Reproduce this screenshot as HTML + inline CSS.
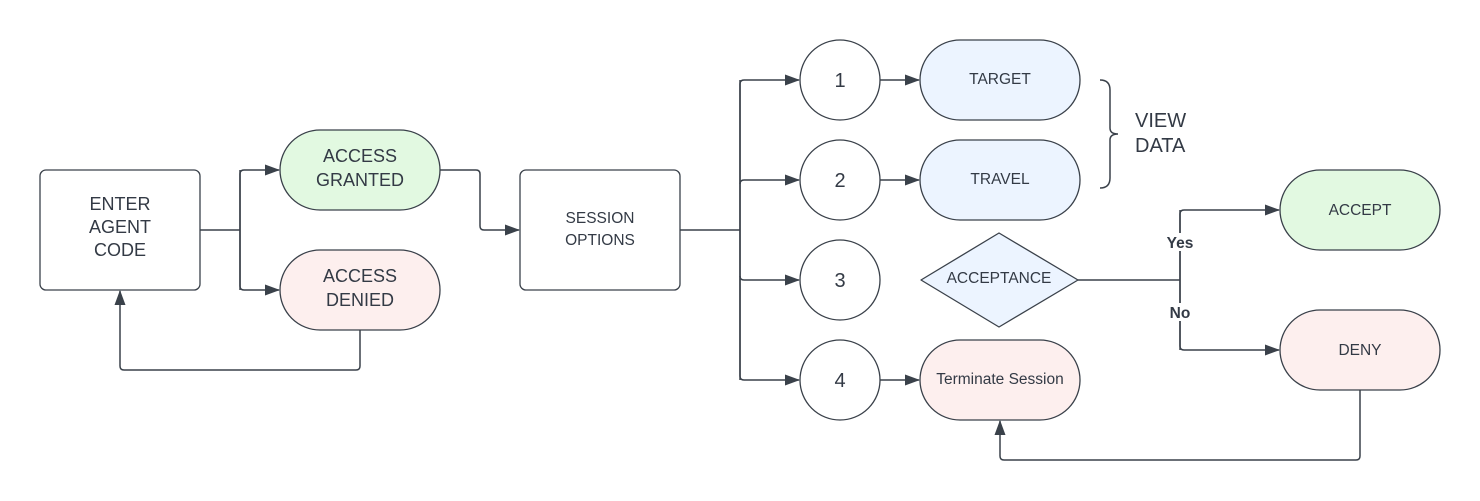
<!DOCTYPE html>
<html><head><meta charset="utf-8"><style>
html,body{margin:0;padding:0;background:#fff;}
svg{display:block;}
text{font-family:"Liberation Sans",sans-serif;fill:#333a45;text-anchor:middle;}
</style></head><body>
<svg width="1480" height="501" viewBox="0 0 1480 501" xmlns="http://www.w3.org/2000/svg">
<defs>
<marker id="a" markerWidth="15" markerHeight="11" refX="14" refY="5.5" orient="auto" markerUnits="userSpaceOnUse">
<path d="M0,0 L15,5.5 L0,11 Z" fill="#3a414a"/></marker>
</defs>
<g fill="none" stroke="#3a414a" stroke-width="1.5">
<path d="M200,230 H240"/>
<path d="M240,290 V174 Q240,170 244,170 H279" marker-end="url(#a)"/>
<path d="M240,170 V286 Q240,290 244,290 H279" marker-end="url(#a)"/>
<path d="M360,330 V366 Q360,370 356,370 H124 Q120,370 120,366 V291" marker-end="url(#a)"/>
<path d="M440,170 H476 Q480,170 480,174 V226 Q480,230 484,230 H519" marker-end="url(#a)"/>
<path d="M680,230 H740"/>
<path d="M740,380 V84 Q740,80 744,80 H799" marker-end="url(#a)"/>
<path d="M740,184 Q740,180 744,180 H799" marker-end="url(#a)"/>
<path d="M740,80 V376 Q740,380 744,380 H799" marker-end="url(#a)"/>
<path d="M740,276 Q740,280 744,280 H799" marker-end="url(#a)"/>
<path d="M880,80 H919" marker-end="url(#a)"/>
<path d="M880,180 H919" marker-end="url(#a)"/>
<path d="M880,380 H919" marker-end="url(#a)"/>
<path d="M1078,280 H1180"/>
<path d="M1180,350 V214 Q1180,210 1184,210 H1279" marker-end="url(#a)"/>
<path d="M1180,210 V346 Q1180,350 1184,350 H1279" marker-end="url(#a)"/>
<path d="M1360,390 V456 Q1360,460 1356,460 H1004 Q1000,460 1000,456 V421" marker-end="url(#a)"/>
<path d="M1100,80 Q1110,80 1110,90 V128 Q1110,134 1118,134 Q1110,134 1110,140 V178 Q1110,188 1100,188"/>
</g>
<rect x="1162" y="233" width="36" height="18" fill="#fff"/>
<rect x="1162" y="303" width="36" height="18" fill="#fff"/>
<g stroke="#3a414a" stroke-width="1.3">
<rect x="40" y="170" width="160" height="120" rx="6" fill="#fff"/>
<rect x="280" y="130" width="160" height="80" rx="40" fill="#e2f9e1"/>
<rect x="280" y="250" width="160" height="80" rx="40" fill="#fdefee"/>
<rect x="520" y="170" width="160" height="120" rx="6" fill="#fff"/>
<circle cx="840" cy="80" r="40" fill="#fff"/>
<circle cx="840" cy="180" r="40" fill="#fff"/>
<circle cx="840" cy="280" r="40" fill="#fff"/>
<circle cx="840" cy="380" r="40" fill="#fff"/>
<rect x="920" y="40" width="160" height="80" rx="40" fill="#ecf4ff"/>
<rect x="920" y="140" width="160" height="80" rx="40" fill="#ecf4ff"/>
<rect x="920" y="340" width="160" height="80" rx="40" fill="#fdefee"/>
<path d="M999,233 L1078,280 L999,327 L921,280 Z" fill="#ecf4ff" stroke-linejoin="round"/>
<rect x="1280" y="170" width="160" height="80" rx="40" fill="#e2f9e1"/>
<rect x="1280" y="310" width="160" height="80" rx="40" fill="#fdefee"/>
</g>
<g font-size="18">
<text x="120" y="210">ENTER</text><text x="120" y="233">AGENT</text><text x="120" y="256">CODE</text>
<text x="360" y="162">ACCESS</text><text x="360" y="186">GRANTED</text>
<text x="360" y="282">ACCESS</text><text x="360" y="306">DENIED</text>
<text x="840" y="87" font-size="20">1</text>
<text x="840" y="187" font-size="20">2</text>
<text x="840" y="287" font-size="20">3</text>
<text x="840" y="387" font-size="20">4</text>
</g>
<g font-size="15.5">
<text x="600" y="223">SESSION</text><text x="600" y="245">OPTIONS</text>
<text x="1000" y="84">TARGET</text>
<text x="1000" y="184">TRAVEL</text>
<text x="1000" y="384">Terminate Session</text>
<text x="999" y="283">ACCEPTANCE</text>
<text x="1360" y="215">ACCEPT</text>
<text x="1360" y="355">DENY</text>
<text x="1180" y="248" font-weight="bold">Yes</text>
<text x="1180" y="318" font-weight="bold">No</text>
</g>
<text x="1135" y="127" font-size="20" style="text-anchor:start">VIEW</text>
<text x="1135" y="152" font-size="20" style="text-anchor:start">DATA</text>
</svg>
</body></html>
